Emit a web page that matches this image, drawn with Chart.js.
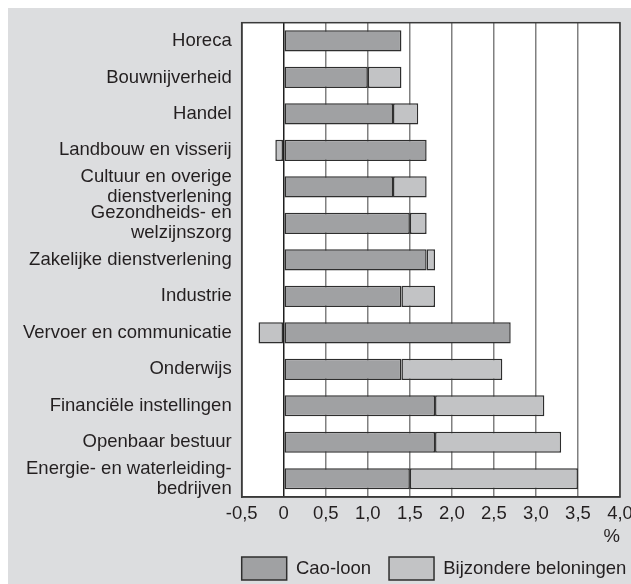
<!DOCTYPE html>
<html>
<head>
<meta charset="utf-8">
<script src="https://cdn.jsdelivr.net/npm/chart.js@4/dist/chart.umd.min.js"></script>
<style>
  html, body { margin: 0; padding: 0; background: #ffffff; }
  #wrap { position: absolute; left: 8px; top: 8px; width: 623px; height: 576px; background: #dcdddf; }
  canvas { display: block; }
</style>
</head>
<body>
<div id="wrap"><canvas id="c" width="623" height="576"></canvas></div>
<script>
const categories = [
  'Horeca',
  'Bouwnijverheid',
  'Handel',
  'Landbouw en visserij',
  ['Cultuur en overige', 'dienstverlening'],
  ['Gezondheids- en', 'welzijnszorg'],
  'Zakelijke dienstverlening',
  'Industrie',
  'Vervoer en communicatie',
  'Onderwijs',
  'Financiële instellingen',
  'Openbaar bestuur',
  ['Energie- en waterleiding-', 'bedrijven']
];
const caoLoon    = [1.4, 1.0, 1.3, 1.7, 1.3, 1.5, 1.7, 1.4, 2.7, 1.4, 1.8, 1.8, 1.5];
const bijzondere = [0.0, 0.4, 0.3, -0.1, 0.4, 0.2, 0.1, 0.4, -0.3, 1.2, 1.3, 1.5, 2.0];
const seriesNames = ['Cao-loon', 'Bijzondere beloningen'];
const xTickLabels = ['-0,5', '0', '0,5', '1,0', '1,5', '2,0', '2,5', '3,0', '3,5', '4,0'];
const unitLabel = '%';

const FONT = '"Liberation Sans", Arial, Helvetica, sans-serif';
const FS = 18.5;
Chart.defaults.font.family = FONT;
Chart.defaults.font.size = FS;
Chart.defaults.color = '#231f20';

const PLOT_LEFT = 233.7;

const plotFrame = {
  id: 'plotFrame',
  afterLayout(chart) {
    const lg = chart.legend;
    if (lg) {
      const pad = lg.options.labels.padding;
      const dx = (PLOT_LEFT - pad) - lg.left;
      lg.left += dx;
      lg.right += dx + 200;
    }
  },
  beforeDraw(chart) {
    const a = chart.chartArea, ctx = chart.ctx;
    ctx.save();
    ctx.fillStyle = '#ffffff';
    ctx.fillRect(a.left, a.top, a.right - a.left, a.bottom - a.top);
    ctx.restore();
  },
  afterDatasetsDraw(chart) {
    const a = chart.chartArea, ctx = chart.ctx;
    ctx.save();
    ctx.strokeStyle = '#3a3a3a';
    ctx.lineWidth = 1.5;
    ctx.strokeRect(a.left, a.top, a.right - a.left, a.bottom - a.top);
    ctx.restore();
  }
};

new Chart(document.getElementById('c'), {
  type: 'bar',
  data: {
    labels: categories,
    datasets: [
      {
        label: seriesNames[0],
        data: caoLoon,
        backgroundColor: '#a0a1a3',
        borderColor: '#2e2e2e',
        borderWidth: 1.5,
        borderSkipped: false
      },
      {
        label: seriesNames[1],
        data: bijzondere,
        backgroundColor: '#c2c3c5',
        borderColor: '#2e2e2e',
        borderWidth: 1.5,
        borderSkipped: false
      }
    ]
  },
  options: {
    indexAxis: 'y',
    responsive: false,
    animation: false,
    barPercentage: 0.58,
    categoryPercentage: 1.0,
    layout: { padding: { left: 0, top: 14.7, right: 11, bottom: -6 } },
    plugins: {
      legend: {
        position: 'bottom',
        align: 'start',
        labels: {
          boxWidth: 45,
          boxHeight: 23,
          padding: 18,
          color: '#231f20',
          font: { size: FS }
        }
      },
      tooltip: { enabled: false },
      title: { display: false }
    },
    scales: {
      x: {
        type: 'linear',
        stacked: true,
        min: -0.5,
        max: 4.0,
        afterBuildTicks(scale) {
          scale.ticks = xTickLabels.map((_, i) => ({ value: -0.5 + i * 0.5 }));
        },
        ticks: {
          padding: 6,
          maxRotation: 0,
          autoSkip: false,
          color: '#231f20',
          font: { size: FS },
          callback: (v, i) => xTickLabels[i]
        },
        grid: {
          drawTicks: false,
          lineWidth: 1.5,
          color: (ctx) => (ctx.tick && ctx.tick.value === 0) ? '#1e1e1e' : '#808080'
        },
        border: { display: true, color: '#3a3a3a', width: 1.5 },
        title: {
          display: true,
          text: unitLabel,
          align: 'end',
          color: '#231f20',
          font: { size: FS },
          padding: { top: 0, bottom: -9.5 }
        },
        afterFit(scale) {
          scale.height = 42;
          scale.paddingLeft = 0;
          scale.paddingRight = 0;
        }
      },
      y: {
        stacked: true,
        ticks: {
          padding: 10,
          autoSkip: false,
          color: '#231f20',
          font: { size: FS, lineHeight: 1.08 }
        },
        grid: { display: false, drawTicks: false },
        border: { display: true, color: '#3a3a3a', width: 1.5 },
        afterFit(scale) {
          scale.width = PLOT_LEFT;
          scale.paddingTop = 0;
          scale.paddingBottom = 0;
        }
      }
    }
  },
  plugins: [plotFrame]
});
</script>
</body>
</html>
